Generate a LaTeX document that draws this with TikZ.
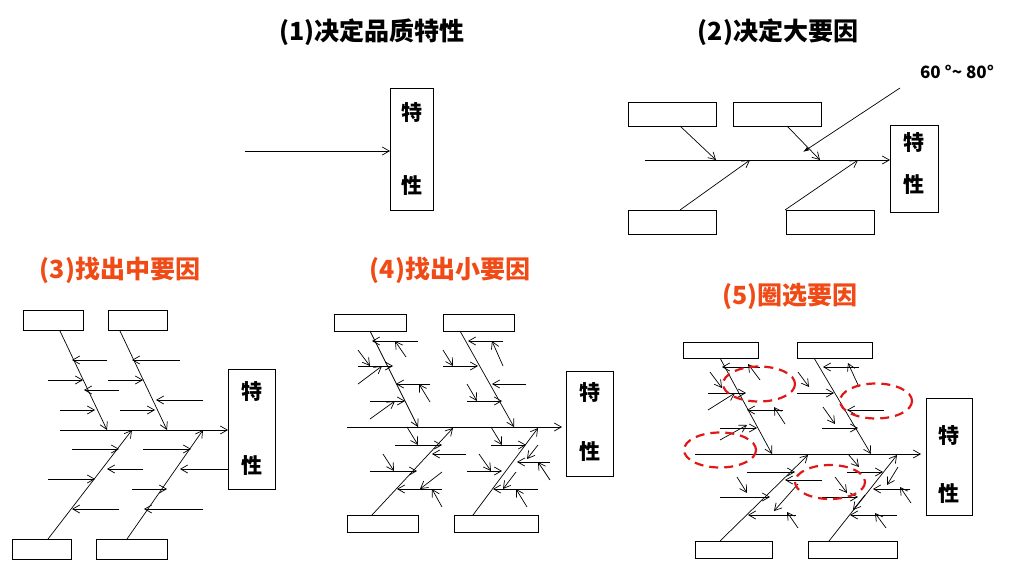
\documentclass[tikz,border=0pt]{standalone}
\usepackage{fontspec}
\setmainfont{Noto Sans CJK SC}
\usetikzlibrary{arrows.meta}
\definecolor{org}{HTML}{F04A16}
\definecolor{rd}{HTML}{E01818}
\begin{document}
\begin{tikzpicture}[x=1pt,y=-1pt,
  ln/.style={line width=0.7pt},
  ar/.style={ln,-{Straight Barb[length=7pt,width=8pt]}},
  bx/.style={draw,line width=0.8pt,inner sep=0pt},
  ttl/.style={font=\bfseries\fontsize{25}{28}\selectfont},
  tk/.style={font=\bfseries\fontsize{21}{24}\selectfont},
  ring/.style={draw=rd,line width=2.2pt,dash pattern=on 9pt off 6pt}]
\useasboundingbox (0,0) rectangle (1029,566);
\newcommand{\rb}[3]{\draw[bx] (#1) rectangle (#2); \coordinate (#3) at ($(#1)!0.5!(#2)$);}
\newcommand{\sarr}[1]{\foreach \a/\b/\c/\d in {#1} \draw[ar] (\a,\b)--(\c,\d);}
% Panel 1
\node[ttl] (t1) at (372,32) {(1)决定品质特性};
\draw[bx] (390,88) rectangle (433,210);
\node[tk] (k1a) at (411.5,113) {特};
\node[tk] (k1b) at (411.5,186) {性};
\coordinate (s1) at (245,151); \coordinate (e1) at (390,151);
\draw[ar] (s1)--(e1);
% Panel 2
\node[ttl] (t2) at (778,32) {(2)决定大要因};
\draw[bx] (890,125) rectangle (938,212);
\node[tk] (k2a) at (914,143) {特}; \node[tk] (k2b) at (914,185) {性};
\draw[bx] (628,102) rectangle (716,126);
\draw[bx] (733,102) rectangle (821,126);
\draw[bx] (628,210) rectangle (716,234);
\draw[bx] (786,210) rectangle (874,234);
\draw[ar] (645,160)--(890,160);
\draw[ar] (680,126)--(716,160);
\draw[ar] (787,126)--(820,160);
\draw[ar] (680,210)--(750,160);
\draw[ar] (785,210)--(858,160);
\node[font=\bfseries\fontsize{17}{20}\selectfont] (ang) at (957,72) {60 °\textasciitilde{} 80°};
\draw[ln,-{Latex[length=6pt,width=4pt]}] (900,88)--(803,152);
% Panel 3
\node[ttl,text=org] (t3) at (120,270) {(3)找出中要因};
\draw[bx] (228,369) rectangle (275,489);
\node[tk] (k3a) at (251.5,392) {特}; \node[tk] (k3b) at (251.5,466) {性};
\draw[bx] (23,310) rectangle (83,330);
\draw[bx] (108,310) rectangle (167,330);
\draw[bx] (12,539) rectangle (71,559);
\draw[bx] (96,539) rectangle (167,559);
\draw[ar] (60,430)--(228,430);
\sarr{60/331/107/430,120/331/167/430,48/539/132/430,127/539/203/430,
107/360/72/360,180/360/132/360,48/380/83/380,108/380/143/380,119/390/84/390,203/400/156/400,
60/410/95/410,120/410/155/410,72/449/119/449,143/449/191/449,143/469/107/469,228/469/180/469,
48/479/95/479,132/489/167/489,119/509/72/509,203/509/144/509}
% Panel 4
\node[ttl,text=org] (t4) at (450,270) {(4)找出小要因};
\draw[bx] (566,371) rectangle (613,476);
\node[tk] (k4a) at (589.5,393) {特}; \node[tk] (k4b) at (589.5,452) {性};
\draw[bx] (334,314) rectangle (406,331);
\draw[bx] (443,314) rectangle (514,331);
\draw[bx] (347,515) rectangle (418,532);
\draw[bx] (454,515) rectangle (538,532);
\draw[ar] (347,427)--(562,427);
\sarr{370/331/418/427,460/331/514/427,372/515/453/428,473/515/538/428,
418/341/372/341,406/357/395/341,358/350/370/366,358/366/393/366,358/384/382/366,
430/384/396/384,430/402/419/384,370/401/405/401,370/419/395/401,
503/341/468/341,503/366/492/341,443/350/453/366,443/366/478/366,526/384/492/384,
467/384/477/401,467/401/502/401,
407/427/418/445,395/445/442/445,466/454/432/454,383/454/394/471,370/471/417/471,
442/472/420/489,442/489/397/489,442/507/432/489,
491/427/502/445,491/445/526/445,538/445/527/459,550/462/517/462,550/480/538/462,
479/454/491/471,467/471/502/471,516/472/503/489,538/489/493/489,527/507/516/489}
% Panel 5
\node[ttl,text=org] (t5) at (790,296) {(5)圈选要因};
\draw[bx] (926,398) rectangle (972,515);
\node[tk] (k5a) at (949,436) {特}; \node[tk] (k5b) at (949,494) {性};
\draw[bx] (683,342) rectangle (758,358);
\draw[bx] (797,342) rectangle (872,358);
\draw[bx] (695,541) rectangle (772,558);
\draw[bx] (808,541) rectangle (897,558);
\draw[ar] (695,454)--(921,454);
\sarr{720/358/772/454,814/358/871/454,720/541/808/455,829/541/897/455,
760/367/722/367,760/380/748/364,710/372/722/388,708/393/746/393,708/410/735/393,
783/410/747/410,785/424/774/407,720/428/757/428,720/440/747/425,
859/367/823/367,859/387/848/363,798/372/809/387,797/393/834/393,884/410/847/410,
823/407/835/424,822/428/858/428,
747/472/795/472,822/480/785/480,737/477/747/493,720/497/770/497,798/484/774/511,
796/515/748/515,798/528/787/512,
848/454/859/467,847/472/883/472,898/467/887/485,910/489/873/489,911/503/900/487,
835/477/847/493,822/497/858/497,865/495/853/510,897/515/850/515,886/528/875/513}
\draw[ring] (759,384) ellipse [x radius=36,y radius=17.5];
\draw[ring] (876,401) ellipse [x radius=36,y radius=17.5];
\draw[ring] (720,450) ellipse [x radius=36,y radius=17.5];
\draw[ring] (830,482) ellipse [x radius=35,y radius=17];
\end{tikzpicture}
\end{document}
